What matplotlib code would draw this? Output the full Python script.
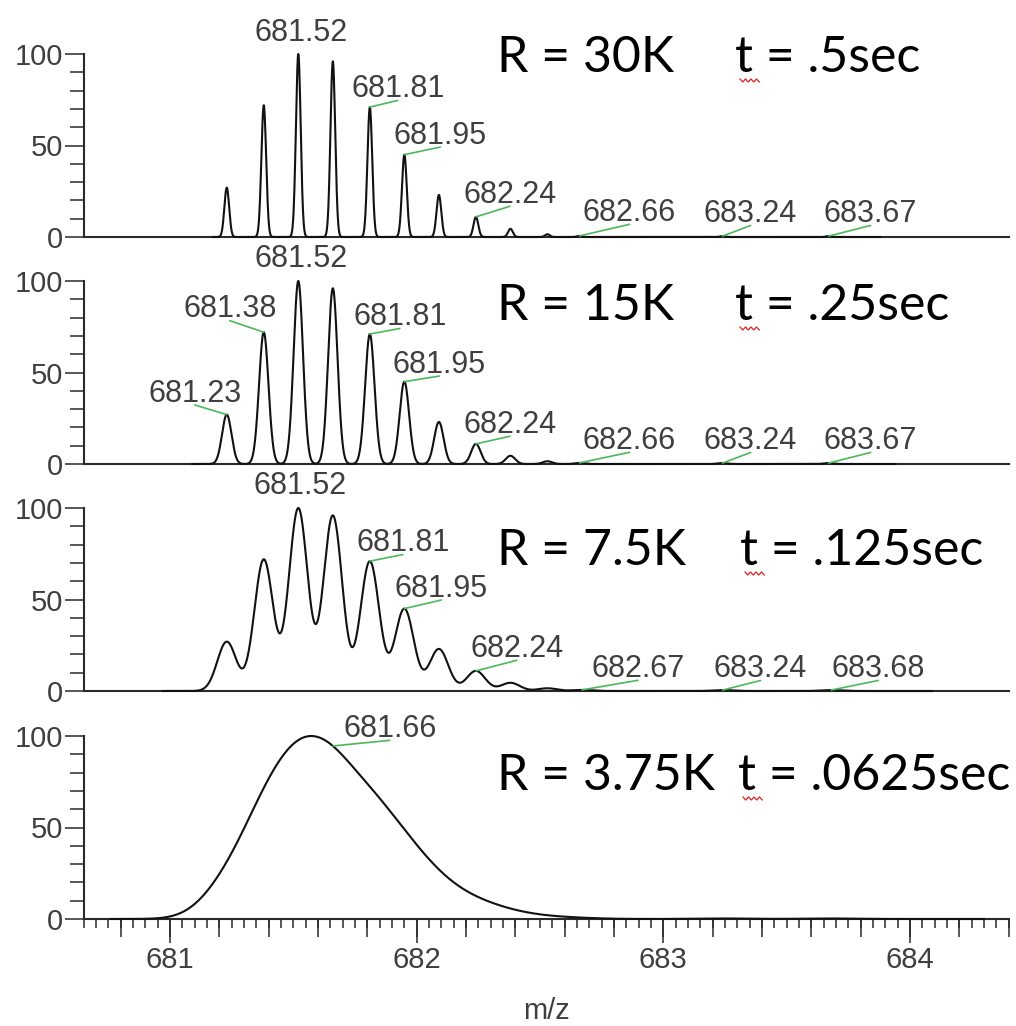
import numpy as np
import matplotlib
matplotlib.use("Agg")
import matplotlib.pyplot as plt
from matplotlib.ticker import MultipleLocator, FixedLocator, NullFormatter
from matplotlib.lines import Line2D

# ---- data -------------------------------------------------------------
# isotope cluster of the precursor (m/z, relative abundance %)
iso_mz = [681.23, 681.38, 681.52, 681.66, 681.81, 681.95, 682.09, 682.24, 682.38, 682.53]
iso_int = [27, 72, 100, 96, 71, 45, 23, 11, 4.5, 1.5]

# low-level background species seen in each scan (m/z, relative abundance %)
trace_mz = [
    [682.66, 683.24, 683.67],
    [682.66, 683.24, 683.67],
    [682.67, 683.24, 683.68],
    [682.66, 683.24, 683.67],
]
trace_int = [0.6, 0.5, 0.5]

resolution = [30000, 15000, 7500, 3750]
res_text = ["R = 30K", "R = 15K", "R = 7.5K", "R = 3.75K"]
time_text = ["t = .5sec", "t = .25sec", "t = .125sec", "t = .0625sec"]

# observed peak width (FWHM, m/z) of each scan
peak_fwhm = [0.0227, 0.045, 0.09, 0.245]

# acquired m/z range of each scan
scan_start = [681.175, 681.09, 680.97, 680.76]
scan_end = [683.88, 683.94, 684.09, 684.30]

peak_labels = [
    ["681.52", "681.81", "681.95", "682.24", "682.66", "683.24", "683.67"],
    ["681.23", "681.38", "681.52", "681.81", "681.95", "682.24", "682.66", "683.24", "683.67"],
    ["681.52", "681.81", "681.95", "682.24", "682.67", "683.24", "683.68"],
    ["681.66"],
]

x_limits = (680.65, 684.4)
x_major = [681, 682, 683, 684]

# ---- layout -----------------------------------------------------------
W, H = 1016, 1026
label_offsets = [  # text centre / baseline offset from the peak apex, pixels
    [(3, 13), (28, 10), (36, 11), (34, 14), (50, 15), (28, 14), (42, 14)],
    [(-32, 13), (-34, 15), (3, 14), (30, 9), (35, 9), (34, 11), (50, 14), (28, 14), (42, 14)],
    [(2, 14), (33, 10), (37, 12), (41, 14), (56, 13), (38, 13), (47, 13)],
    [(57, 9)],
]
panel_zero_px = [237, 464, 691, 919]
panel_h_px = 183
ax_left_px, ax_right_px = 83.7, 1008.7
title_base_px = [72, 320, 565, 790]
title_r_px = 497
title_t_px = [735, 735, 740, 738]
title_size = 36

green = "#4cb85a"
label_color = "#3f3f3f"
axis_color = "#2a2a2a"
tick_font = ["Liberation Sans", "DejaVu Sans"]
title_font = ["Lato", "DejaVu Sans"]

plt.rcParams["font.family"] = tick_font

fig = plt.figure(figsize=(W / 100, H / 100), dpi=100)


def profile(x, centers, heights, sigma):
    y = np.zeros_like(x)
    for c, h in zip(centers, heights):
        y += h * np.exp(-0.5 * ((x - c) / sigma) ** 2)
    return 100.0 * y / y.max()


for i in range(4):
    bottom = 1 - panel_zero_px[i] / H
    ax = fig.add_axes([ax_left_px / W, bottom, (ax_right_px - ax_left_px) / W, panel_h_px / H])
    ax.set_xlim(*x_limits)
    ax.set_ylim(0, 100)
    ax.patch.set_alpha(0)
    for s in ("top", "right"):
        ax.spines[s].set_visible(False)
    for s in ("left", "bottom"):
        ax.spines[s].set_color(axis_color)
        ax.spines[s].set_linewidth(1.5)

    # profile spectrum built from the centroid list and the scan's peak width
    sigma = peak_fwhm[i] / 2.3548
    x = np.arange(scan_start[i], scan_end[i], 0.001)
    y = profile(x, iso_mz + trace_mz[i], iso_int + trace_int, sigma)
    ax.plot(x, y, color="#111111", lw=1.5, clip_on=False, zorder=3)

    # y axis
    ax.yaxis.set_major_locator(FixedLocator([0, 50, 100]))
    ax.yaxis.set_minor_locator(MultipleLocator(10))
    ax.tick_params(axis="y", which="major", length=13.5, width=1.1, color=axis_color,
                   labelsize=21, labelcolor=label_color, pad=1.5)
    ax.tick_params(axis="y", which="minor", length=10, width=1.1, color=axis_color)

    # x axis only labelled on the last scan
    if i < 3:
        ax.tick_params(axis="x", which="both", bottom=False, labelbottom=False)
    else:
        ax.xaxis.set_major_locator(FixedLocator(x_major))
        ax.xaxis.set_minor_locator(MultipleLocator(0.05))
        ax.tick_params(axis="x", which="major", length=17, width=1.1, color=axis_color,
                       labelsize=21, labelcolor=label_color, pad=2.5)
        ax.tick_params(axis="x", which="minor", length=6.5, width=1.1, color=axis_color)
        mid = ax.secondary_xaxis("bottom")
        mid.spines["bottom"].set_visible(False)
        mid.xaxis.set_major_locator(MultipleLocator(0.2))
        mid.xaxis.set_major_formatter(NullFormatter())
        mid.tick_params(axis="x", which="major", length=13, width=1.1, color=axis_color)
        mid.tick_params(axis="x", which="minor", bottom=False)
        ax.set_xlabel("m/z", fontsize=21, color=label_color)
        ax.xaxis.set_label_coords(0.5, (panel_zero_px[i] - 1019) / panel_h_px)
        ax.xaxis.label.set_va("baseline")

    # peak m/z annotations with leader lines
    for lab, (dx, dy) in zip(peak_labels[i], label_offsets[i]):
        mz = float(lab)
        yv = float(np.interp(mz, x, y))
        kw = {}
        if abs(dx) > 10:
            kw["arrowprops"] = dict(arrowstyle="-", color=green, lw=1.2, patchA=None,
                                    shrinkA=0, shrinkB=0, relpos=(0.5, 0.12))
        ax.annotate(lab, xy=(mz, yv), xytext=(dx, dy), textcoords="offset pixels",
                    ha="center", va="baseline", fontsize=22, color=label_color,
                    annotation_clip=False, **kw)

    # resolving power and transient length
    fig.text(title_r_px / W, 1 - title_base_px[i] / H, res_text[i], fontsize=title_size,
             family=title_font, color="black", va="baseline", ha="left")
    fig.text(title_t_px[i] / W, 1 - title_base_px[i] / H, time_text[i], fontsize=title_size,
             family=title_font, color="black", va="baseline", ha="left")

    # wavy red underline beneath the "t"
    zx = title_t_px[i] + 5 + np.arange(0, 22, 2.75)
    zy = title_base_px[i] + 7 + 3 * (np.arange(len(zx)) % 2)
    fig.add_artist(Line2D(zx / W, 1 - zy / H, transform=fig.transFigure,
                          color="#e02020", lw=0.9))

fig.savefig("out.png", dpi=100)
